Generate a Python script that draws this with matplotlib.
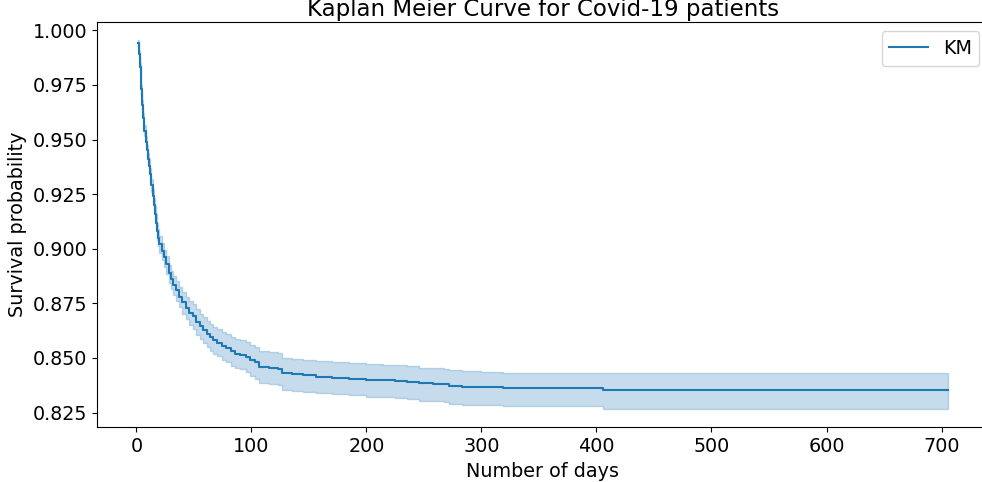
import matplotlib
matplotlib.use("Agg")
import matplotlib.pyplot as plt

# Kaplan Meier estimate
days = [1, 2, 3, 4, 5, 6, 7, 8, 9, 10, 11, 12, 13, 14, 15, 16, 17, 18, 19, 20,
        22, 24, 26, 28, 30, 32, 34, 37, 40, 43, 46, 49, 52, 55, 58, 61, 64, 67,
        70, 74, 78, 82, 86, 90, 95, 99, 103, 107,
        115, 123, 127, 135, 145, 156, 170, 185, 200, 214, 225, 235, 246, 258,
        267, 272, 283, 300, 319, 406, 706]
surv = [.994, .989, .983, .973, .966, .960, .954, .949, .945, .941, .938, .934,
        .929, .924, .920, .916, .912, .908, .905, .902,
        .899, .896, .893, .889, .886, .8835, .881, .878, .8755, .873, .8705,
        .869, .8665, .8645, .8628, .861, .8595, .858, .857, .8555, .8544, .853,
        .852, .8515, .8506, .849, .848, .846,
        .8455, .845, .843, .8425, .842, .8415, .841, .8405, .840, .8398, .8396,
        .8392, .8384, .8382, .8379, .8372, .8368, .8366, .8361, .8354, .8354]
ci_lower = [.9925, .9873, .9812, .9710, .9638, .9577, .9515, .9464, .9423, .9382,
            .9351, .9310, .9259, .9207, .9166, .9124, .9083, .9042, .9011, .8980,
            .8950, .8918, .8886, .8845, .8815, .8788, .8763, .8731, .8703, .8677,
            .8650, .8632, .8606, .8585, .8567, .8549, .8533, .8518, .8508, .8492,
            .8480, .8465, .8454, .8448, .8437, .8418, .8405, .8384,
            .8379, .8374, .8354, .8349, .8344, .8339, .8334, .8329, .8323, .8320,
            .8317, .8312, .8304, .8301, .8298, .8290, .8286, .8284, .8279, .8267,
            .8267]
ci_upper = [.9955, .9906, .9848, .9750, .9682, .9623, .9565, .9516, .9477, .9438,
            .9409, .9370, .9321, .9273, .9234, .9196, .9157, .9118, .9089, .9060,
            .9025, .8995, .8966, .8927, .8900, .8876, .8852, .8825, .8803, .8781,
            .8759, .8745, .8722, .8703, .8688, .8670, .8656, .8641, .8632, .8618,
            .8608, .8596, .8587, .8583, .8575, .8559, .8550, .8532,
            .8527, .8522, .8501, .8496, .8491, .8486, .8481, .8476, .8471, .8469,
            .8467, .8463, .8455, .8453, .8450, .8443, .8439, .8437, .8432, .8433,
            .8433]
assert len(days) == len(surv) == len(ci_lower) == len(ci_upper)

plt.rcParams['font.size'] = 13.75

fig = plt.figure(figsize=(9.82, 4.82), dpi=100)
# the right spine sits just outside the saved picture, like in the original
ax = fig.add_axes([0.0988, 0.1135, 0.9083, 0.8415])

ax.plot(days, surv, drawstyle='steps-post', color='#1f77b4', lw=1.5, label='KM')
ax.fill_between(days, ci_lower, ci_upper, step='post', color='#1f77b4',
                alpha=0.25, linewidth=1.0)

# title sits tight against the top edge (it is clipped in the original)
ax.set_title("Kaplan Meier Curve for Covid-19 patients", pad=4)
ax.set_xlabel("Number of days")
ax.set_ylabel("Survival probability")
ax.legend(loc='upper right')

fig.savefig("out.png", dpi=100)
